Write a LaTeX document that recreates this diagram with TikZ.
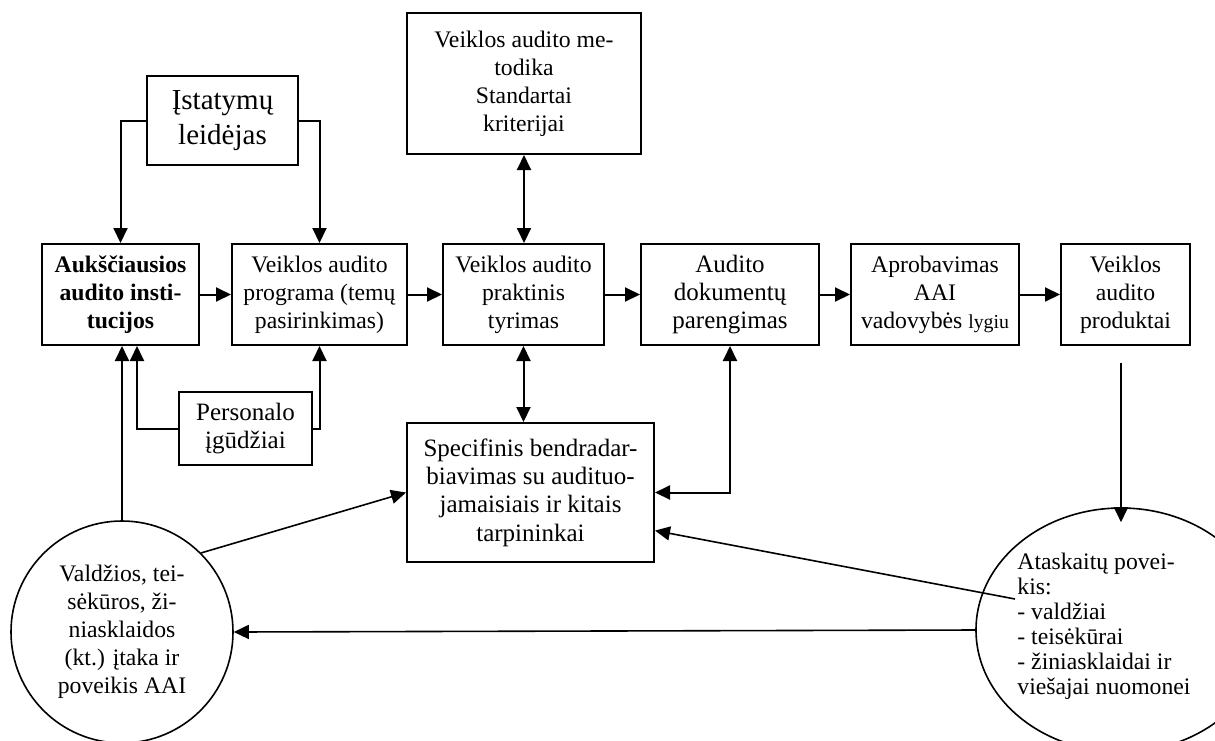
\documentclass[tikz,border=0pt]{standalone}
\usepackage{fontspec}
\setmainfont{Liberation Serif}
\usetikzlibrary{arrows.meta,shapes.geometric,calc}
\begin{document}
\begin{tikzpicture}[x=0.5pt,y=-0.5pt,
  box/.style={draw, line width=1pt, inner sep=0pt, align=center, font=\fontsize{11.85}{14}\selectfont},
  bigtext/.style={font=\fontsize{12.5}{14.2}\selectfont},
  arr/.style={line width=1pt, -{Triangle[length=7.5pt,width=7pt]}},
  arrb/.style={line width=1pt, {Triangle[length=7.5pt,width=7pt]}-{Triangle[length=7.5pt,width=7pt]}},
  thinarr/.style={line width=0.8pt, -{Triangle[length=7.5pt,width=7pt]}},
]
\useasboundingbox (0,0) rectangle (1215,740);
\clip (0,0) rectangle (1215,740);

% boxes
\node[box, minimum width=75.5pt, minimum height=44.5pt, font=\fontsize{14.5}{17.5}\selectfont] (ist) at (222.5,120.5) {Įstatymų\\leidėjas};
\node[box, minimum width=117pt, minimum height=70.5pt] (met) at (524,83.5) {Veiklos audito me-\\todika\\Standartai\\kriterijai};
\node[box, minimum width=78.5pt, minimum height=50.5pt, font=\fontsize{11.85}{14}\selectfont\bfseries] (auk) at (120.5,294.5) {Aukščiausios\\audito insti-\\tucijos};
\node[box, minimum width=87.5pt, minimum height=50.5pt] (prog) at (319.5,294.5) {Veiklos audito\\programa (temų\\pasirinkimas)};
\node[box, minimum width=80.5pt, minimum height=50.5pt] (prak) at (523.5,294.5) {Veiklos audito\\praktinis\\tyrimas};
\node[box, bigtext, minimum width=89pt, minimum height=50.5pt] (dok) at (730,294.5) {Audito\\dokumentų\\parengimas};
\node[box, minimum width=84pt, minimum height=50.5pt] (apr) at (935,294.5) {Aprobavimas\\AAI\\vadovybės {\fontsize{9.9}{14}\selectfont lygiu}};
\node[box, minimum width=64.5pt, minimum height=50.5pt] (prod) at (1125.5,294.5) {Veiklos\\audito\\produktai};
\node[box, bigtext, minimum width=66.5pt, minimum height=36.5pt] (pers) at (245.5,428.5) {Personalo\\įgūdžiai};
\node[box, bigtext, minimum width=123.5pt, minimum height=69.5pt] (spec) at (530.5,492.5) {Specifinis bendradar-\\biavimas su audituo-\\jamaisiais ir kitais\\tarpininkai};

% circles
\node[draw, circle, line width=0.8pt, minimum size=111pt, inner sep=0pt, align=center, font=\fontsize{11.85}{14}\selectfont] (lc) at (122,632) {Valdžios, tei-\\sėkūros, ži-\\niasklaidos\\(kt.) įtaka ir\\poveikis AAI};
\node[draw, ellipse, line width=0.8pt, minimum width=145pt, minimum height=122pt, inner sep=0pt] (re) at (1121,630) {};
\node[anchor=west, align=left, inner sep=0pt, font=\fontsize{11.85}{12.5}\selectfont] (reText) at (1017,626) {Ataskaitų povei-\\kis:\\- valdžiai\\- teisėkūrai\\- žiniasklaidai ir\\viešajai nuomonei};

% connectors
\draw[arr] (ist.west) -| (auk.north);
\draw[arr] (ist.east) -| (prog.north);
\draw[arr] (auk.east) -- (prog.west);
\draw[arr] (prog.east) -- (prak.west);
\draw[arr] (prak.east) -- (dok.west);
\draw[arr] (dok.east) -- (apr.west);
\draw[arr] (apr.east) -- (prod.west);
\draw[arrb] (met.south) -- (met.south |- prak.north);
\draw[arrb] (prak.south) -- (prak.south |- spec.north);
\draw[arrb] (spec.east) -| (dok.south);
\draw[arr] (pers.west) -| ($(auk.south)+(16.5,0)$);
\draw[arr] (pers.east) -| (prog.south);
\draw[arr] (lc.north) -- (lc.north |- auk.south);
\draw[thinarr] (lc.45) -- (spec.west);
\draw[thinarr] (re.west) -- (lc.east);
\coordinate (reIn) at (1015,599);
\draw[thinarr] (reIn) -- ($(spec.south east)!0.23!(spec.north east)$);
\coordinate (prodOut) at (1121,363);
\draw[arr] (prodOut) -- ($(re.north)+(0,15)$);
\end{tikzpicture}
\end{document}
